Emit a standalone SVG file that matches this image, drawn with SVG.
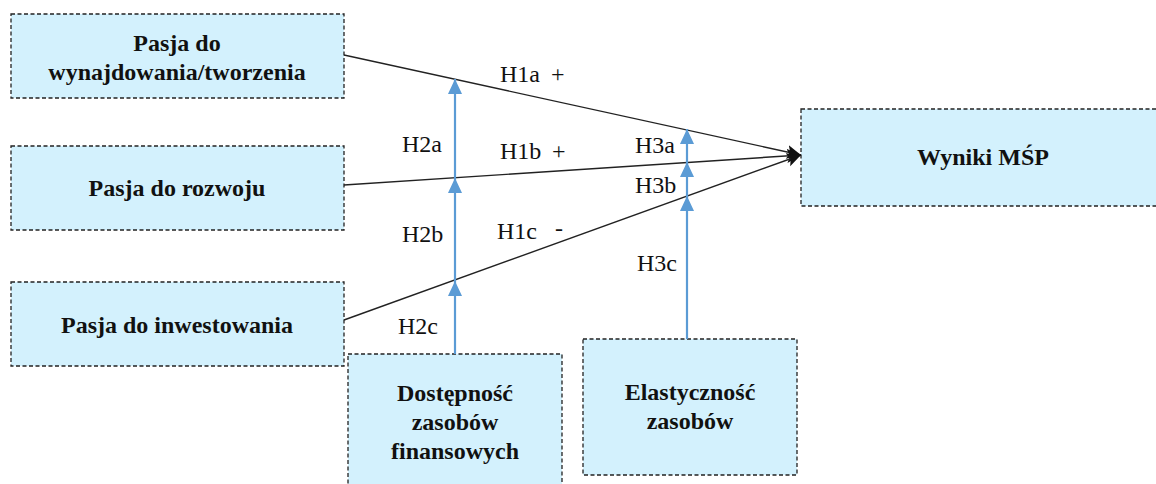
<svg xmlns="http://www.w3.org/2000/svg" width="1156" height="484" viewBox="0 0 1156 484">
  <style>
    .box { fill: #d3f1fd; stroke: #222; stroke-width: 1.3; stroke-dasharray: 4 2.5; }
    .nt { font-family: "Liberation Serif", "Times New Roman", serif; font-weight: bold; font-size: 24px; fill: #111; text-anchor: middle; }
    .lbl { font-family: "Liberation Serif", "Times New Roman", serif; font-size: 24px; fill: #111; }
    .path { stroke: #222; stroke-width: 1.4; fill: none; }
    .mod { stroke: #5b9bd5; stroke-width: 2.2; fill: none; }
  </style>
  <defs>
    <marker id="blackHead" markerWidth="16" markerHeight="16" refX="14" refY="8" orient="auto" markerUnits="userSpaceOnUse">
      <path d="M0,1 L14,8 L0,15 L3,8 Z" fill="#111"/>
    </marker>
    <marker id="blueHead" markerWidth="16" markerHeight="14" refX="15" refY="7" orient="auto" markerUnits="userSpaceOnUse">
      <path d="M0,0 L15,7 L0,14 Z" fill="#5b9bd5"/>
    </marker>
  </defs>

  <g id="node-pasja-wynajdowania">
    <rect class="box" x="11" y="14" width="333" height="84"/>
    <text class="nt" x="177" y="51">Pasja do</text>
    <text class="nt" x="177" y="80">wynajdowania/tworzenia</text>
  </g>
  <g id="node-pasja-rozwoju">
    <rect class="box" x="11" y="146" width="333" height="84"/>
    <text class="nt" x="177" y="196">Pasja do rozwoju</text>
  </g>
  <g id="node-pasja-inwestowania">
    <rect class="box" x="11" y="282" width="333" height="84"/>
    <text class="nt" x="177" y="333">Pasja do inwestowania</text>
  </g>
  <g id="node-wyniki">
    <rect class="box" x="801" y="109" width="360" height="97"/>
    <text class="nt" x="983" y="165">Wyniki MŚP</text>
  </g>
  <g id="node-dostepnosc">
    <rect class="box" x="348" y="354" width="214" height="140"/>
    <text class="nt" x="455" y="401">Dostępność</text>
    <text class="nt" x="455" y="430">zasobów</text>
    <text class="nt" x="455" y="459">finansowych</text>
  </g>
  <g id="node-elastycznosc">
    <rect class="box" x="583" y="339" width="214" height="136"/>
    <text class="nt" x="690" y="400">Elastyczność</text>
    <text class="nt" x="690" y="429">zasobów</text>
  </g>

  <g id="connectors">
    <!-- direct effects H1 -->
    <line class="path" x1="344" y1="55" x2="801" y2="155" marker-end="url(#blackHead)"/>
    <line class="path" x1="344" y1="185" x2="801" y2="155" marker-end="url(#blackHead)"/>
    <line class="path" x1="344" y1="320" x2="801" y2="155" marker-end="url(#blackHead)"/>
    <!-- moderation H2: segments between crossing points -->
    <line class="mod" x1="455" y1="354" x2="455" y2="281" marker-end="url(#blueHead)"/>
    <line class="mod" x1="455" y1="281" x2="455" y2="178" marker-end="url(#blueHead)"/>
    <line class="mod" x1="455" y1="178" x2="455" y2="79" marker-end="url(#blueHead)"/>
    <!-- moderation H3 -->
    <line class="mod" x1="687" y1="339" x2="687" y2="196" marker-end="url(#blueHead)"/>
    <line class="mod" x1="687" y1="196" x2="687" y2="162" marker-end="url(#blueHead)"/>
    <line class="mod" x1="687" y1="162" x2="687" y2="129" marker-end="url(#blueHead)"/>
  </g>

  <g id="labels">
    <text class="lbl" x="500" y="82">H1a</text>
    <text class="lbl" x="551" y="82">+</text>
    <text class="lbl" x="500" y="159">H1b</text>
    <text class="lbl" x="552" y="159">+</text>
    <text class="lbl" x="497" y="239">H1c</text>
    <text class="lbl" x="555" y="236">-</text>
    <text class="lbl" x="402" y="152">H2a</text>
    <text class="lbl" x="402" y="242">H2b</text>
    <text class="lbl" x="398" y="334">H2c</text>
    <text class="lbl" x="635" y="153">H3a</text>
    <text class="lbl" x="635" y="193">H3b</text>
    <text class="lbl" x="637" y="271">H3c</text>
  </g>
</svg>
